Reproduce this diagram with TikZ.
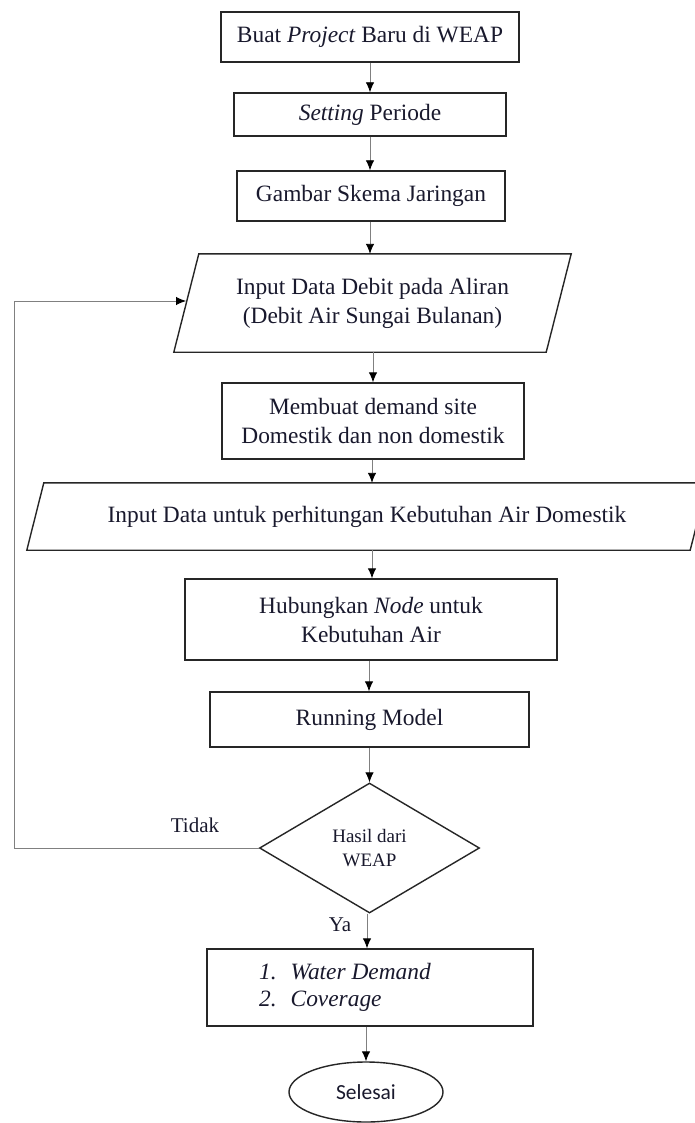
\documentclass[tikz,border=0pt]{standalone}
\usepackage{fontspec}
\setmainfont{Liberation Serif}
\newfontfamily\calib{Carlito}
\usetikzlibrary{arrows.meta,shapes.geometric,calc}
\definecolor{txt}{RGB}{25,25,45}
\begin{document}
\begin{tikzpicture}[x=1pt,y=-1pt,
  box/.style={draw=black!85, line width=1.4pt, rectangle, inner sep=0pt, align=center,
    font=\fontsize{23.4}{29}\selectfont, text=txt},
  pbody/.style={draw=none, rectangle, inner sep=0pt, align=center,
    font=\fontsize{23.4}{29}\selectfont, text=txt},
  pline/.style={draw=black!85, line width=1.4pt, line join=miter},
  conn/.style={draw=black!50, line width=0.9pt, -{Latex[length=10pt,width=8.5pt,color=black]}},
  lbl/.style={font=\fontsize{21}{25}\selectfont, text=txt, inner sep=0pt},
]
\useasboundingbox (0,0) rectangle (695,1123);
\fill[white] (0,0) rectangle (695,1123);

\node[box, minimum width=298, minimum height=50] (b1) at (370,37) {Buat \textit{Project} Baru di WEAP};
\node[box, minimum width=272, minimum height=43] (b2) at (370,114.5) {\textit{Setting} Periode};
\node[box, minimum width=268, minimum height=50] (b3) at (371,196) {Gambar Skema Jaringan};

\node[pbody, minimum width=372, minimum height=98] (p1) at (372.5,303) {Input Data Debit pada Aliran\\(Debit Air Sungai Bulanan)};
\draw[pline] ($(p1.north west)+(12.5,0)$) -- ($(p1.north east)+(12.5,0)$) -- ($(p1.south east)+(-12.5,0)$) -- ($(p1.south west)+(-12.5,0)$) -- cycle;

\node[box, minimum width=302, minimum height=76] (b4) at (373,421) {Membuat demand site\\Domestik dan non domestik};

\node[pbody, minimum width=663, minimum height=67] (p2) at (367,516.5) {Input Data untuk perhitungan Kebutuhan Air Domestik};
\draw[pline] ($(p2.north west)+(8.5,0)$) -- ($(p2.north east)+(8.5,0)$) -- ($(p2.south east)+(-8.5,0)$) -- ($(p2.south west)+(-8.5,0)$) -- cycle;

\node[box, minimum width=372, minimum height=81] (b5) at (371,619.5) {Hubungkan \textit{Node} untuk\\Kebutuhan Air};
\node[box, minimum width=319, minimum height=55] (b6) at (369.5,719.5) {Running Model};

\node[draw=black!85, line width=1.4pt, diamond, minimum width=220, minimum height=130, inner sep=0pt,
  align=center, font=\fontsize{19}{24}\selectfont, text=txt] (d) at (369.5,848) {Hasil dari\\WEAP};

\node[box, minimum width=326, minimum height=77] (b7) at (370,987.5)
  {\begin{tabular}{@{}l@{\hspace{14pt}}l@{}}\textit{1.} & \textit{Water Demand}\\[-2pt] \textit{2.} & \textit{Coverage}\end{tabular}\hspace*{50pt}};

\node[draw=black!85, line width=1.4pt, ellipse, minimum width=154, minimum height=60, inner sep=0pt,
  font=\calib\fontsize{21.5}{25}\selectfont, text=txt] (e) at (366,1092) {Selesai};

\node[lbl] (tidak) at (195,825) {Tidak};
\node[lbl] (ya) at (340,925) {Ya};

\draw[conn] (b1.south -| 370,0) -- (b2.north -| 370,0);
\draw[conn] (b2.south -| 370,0) -- (b3.north -| 370,0);
\draw[conn] (b3.south -| 370,0) -- (p1.north -| 370,0);
\draw[conn] (p1.south -| 373,0) -- (b4.north -| 373,0);
\draw[conn] (b4.south -| 372,0) -- (p2.north -| 372,0);
\draw[conn] (p2.south -| 372,0) -- (b5.north -| 372,0);
\draw[conn] (b5.south -| 369,0) -- (b6.north -| 369,0);
\draw[conn] (b6.south) -- (d.north);
\draw[conn] (d.south -| 367,0) -- (b7.north -| 367,0);
\draw[conn] (b7.south -| 366,0) -- (e.north);

\coordinate (lx) at (14,848);
\coordinate (lp) at (186,301);
\draw[conn] (d.west) -- (lx) |- (lp);
\end{tikzpicture}
\end{document}
